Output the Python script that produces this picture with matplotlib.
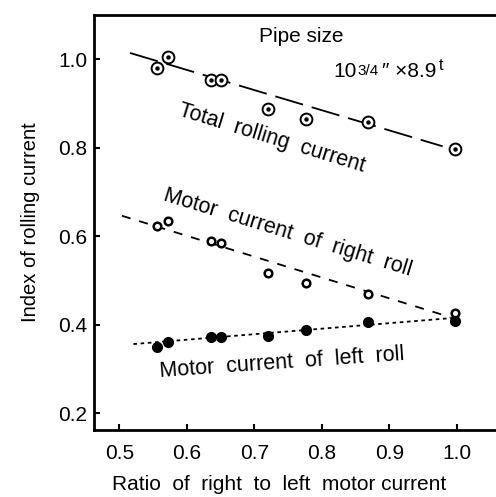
import numpy as np
import matplotlib.pyplot as plt

plt.rcParams['font.family'] = ['Liberation Sans', 'DejaVu Sans']

# ratio of right to left motor current
ratio = [0.556, 0.572, 0.636, 0.651, 0.721, 0.777, 0.868, 0.997]
total_cur = [0.980, 1.004, 0.953, 0.953, 0.887, 0.865, 0.859, 0.797]
right_cur = [0.623, 0.634, 0.588, 0.584, 0.516, 0.494, 0.470, 0.426]
left_cur = [0.349, 0.361, 0.373, 0.373, 0.375, 0.387, 0.406, 0.409]

# hand drawn trend lines (end points)
total_fit_x, total_fit_y = [0.516, 0.979], [1.014, 0.803]
right_fit_x, right_fit_y = [0.504, 0.990], [0.646, 0.417]
left_fit_x, left_fit_y = [0.521, 0.994], [0.356, 0.415]

xticks = [0.5, 0.6, 0.7, 0.8, 0.9, 1.0]
yticks = [0.2, 0.4, 0.6, 0.8, 1.0]

fig = plt.figure(figsize=(4.96, 4.97), dpi=100)
ax = fig.add_axes([0.19, 0.135, 0.81, 0.835])

ax.plot(total_fit_x, total_fit_y, color='k', lw=1.3, dashes=(16, 5), zorder=1)
ax.plot(right_fit_x, right_fit_y, color='k', lw=1.3, dashes=(5, 5), zorder=1)
ax.plot(left_fit_x, left_fit_y, color='k', lw=1.3, dashes=(2, 2), zorder=1)

ax.plot(ratio, total_cur, 'o', ms=8.5, mfc='white', mec='k', mew=1.4, ls='none', zorder=3)
ax.plot(ratio, total_cur, 'o', ms=2.2, color='k', ls='none', zorder=4)
ax.plot(ratio, right_cur, 'o', ms=5.5, mfc='white', mec='k', mew=1.8, ls='none', zorder=3)
ax.plot(ratio, left_cur, 'o', ms=7, color='k', ls='none', zorder=3)

ax.text(0.77, 1.051, 'Pipe size', ha='center', va='center', fontsize=15)

# pipe size: 10 3/4" x 8.9t, built from pieces
anchor = (0.817, 0.960)
ax.annotate('10', anchor, xytext=(0, 0), textcoords='offset points',
            ha='left', va='baseline', fontsize=15)
ax.annotate('3/4', anchor, xytext=(17.5, 1.5), textcoords='offset points',
            ha='left', va='baseline', fontsize=11)
ax.annotate('″ ×8.9', anchor, xytext=(35, 0), textcoords='offset points',
            ha='left', va='baseline', fontsize=15)
ax.annotate('t', anchor, xytext=(76, 5), textcoords='offset points',
            ha='left', va='baseline', fontsize=11.5)

ax.text(0.726, 0.82, 'Total  rolling  current', ha='center', va='center',
        fontsize=15.5, rotation=-17, rotation_mode='anchor')
ax.text(0.75, 0.607, 'Motor  current  of  right  roll', ha='center', va='center',
        fontsize=15.5, rotation=-17, rotation_mode='anchor')
ax.text(0.741, 0.314, 'Motor  current  of  left  roll', ha='center', va='center',
        fontsize=15.5, rotation=4, rotation_mode='anchor')

ax.set_xlim(0.463, 1.058)
ax.set_ylim(0.162, 1.10)
ax.set_xticks(xticks)
ax.set_yticks(yticks)
ax.set_xticklabels(['%.1f' % t for t in xticks])
ax.set_yticklabels(['%.1f' % t for t in yticks])
ax.tick_params(direction='in', length=4, width=1.5, labelsize=15)
ax.tick_params(axis='x', pad=10)
ax.tick_params(axis='y', pad=5)

for s in ['left', 'bottom', 'top']:
    ax.spines[s].set_linewidth(2)
ax.spines['right'].set_visible(False)

ax.set_xlabel('Ratio  of  right  to  left  motor current', fontsize=15)
ax.xaxis.set_label_coords(0.46, -0.108)
ax.set_ylabel('Index of rolling current', fontsize=14.5)
ax.yaxis.set_label_coords(-0.135, 0.5)

fig.savefig('out.png', dpi=100)
